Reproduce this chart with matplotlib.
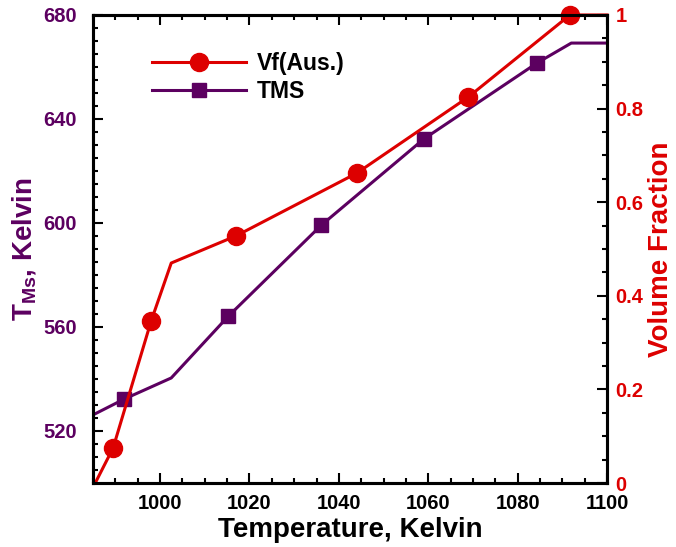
import matplotlib
matplotlib.use("Agg")
import matplotlib.pyplot as plt
from matplotlib.ticker import MultipleLocator, FuncFormatter

plt.rcParams['font.family'] = ['Liberation Sans', 'DejaVu Sans']
plt.rcParams['font.weight'] = 'bold'
plt.rcParams['mathtext.fontset'] = 'custom'
plt.rcParams['mathtext.rm'] = 'Liberation Sans:bold'
plt.rcParams['mathtext.it'] = 'Liberation Sans:bold'
plt.rcParams['mathtext.default'] = 'rm'

RED = '#dd0000'
PURPLE = '#5c0060'

# volume fraction of austenite (right axis)
vf_temp = [985.5, 989.5, 998.0, 1002.5, 1017.0, 1044.0, 1069.0, 1091.7, 1100.0]
vf_val = [0.0, 0.075, 0.346, 0.47, 0.528, 0.662, 0.825, 1.0, 1.0]
vf_marks = [1, 2, 4, 5, 6, 7]

# Ms temperature (left axis)
tms_temp = [985.0, 992.0, 1002.5, 1015.3, 1036.1, 1059.0, 1084.3, 1092.0, 1100.0]
tms_val = [526.2, 532.3, 540.4, 564.2, 599.2, 632.3, 661.5, 669.2, 669.2]
tms_marks = [1, 3, 4, 5, 6]

fig = plt.figure(figsize=(6.76, 5.47), dpi=100)
ax = fig.add_axes([0.1376, 0.117, 0.7604, 0.8556])
ax2 = ax.twinx()

l2, = ax.plot(tms_temp, tms_val, color=PURPLE, lw=2.2, marker='s', ms=9.5,
              markevery=tms_marks, label='TMS')
l1, = ax2.plot(vf_temp, vf_val, color=RED, lw=2.2, marker='o', ms=13,
               markevery=vf_marks, label='Vf(Aus.)', clip_on=False)

ax.set_xlim(985, 1100)
ax.set_ylim(500, 680)
ax2.set_ylim(0, 1)

ax.xaxis.set_major_locator(MultipleLocator(20))
ax.xaxis.set_minor_locator(MultipleLocator(5))
ax.yaxis.set_major_locator(MultipleLocator(40))
ax.yaxis.set_minor_locator(MultipleLocator(5))
ax2.yaxis.set_major_locator(MultipleLocator(0.2))
ax2.yaxis.set_minor_locator(MultipleLocator(0.05))
ax2.yaxis.set_major_formatter(FuncFormatter(lambda v, p: '%g' % round(v, 2)))

for a in (ax, ax2):
    for s in a.spines.values():
        s.set_linewidth(2.2)

ax.tick_params(axis='x', which='both', direction='in', top=True, labelsize=14.5, width=1.5, pad=8)
ax.tick_params(axis='x', which='major', length=7)
ax.tick_params(axis='x', which='minor', length=3.5)
ax.tick_params(axis='y', which='both', direction='in', right=False, labelsize=14.5,
               labelcolor=PURPLE, width=1.5, pad=11.5)
ax.tick_params(axis='y', which='major', length=7)
ax.tick_params(axis='y', which='minor', length=3.5)
ax2.tick_params(axis='y', which='both', direction='in', labelsize=14.5,
                labelcolor=RED, width=1.5, pad=6)
ax2.tick_params(axis='y', which='major', length=7)
ax2.tick_params(axis='y', which='minor', length=3.5)

ax.set_xlabel('Temperature, Kelvin', fontsize=20, fontweight='bold', labelpad=3)
ax.set_ylabel('T$_{Ms}$, Kelvin', fontsize=20, fontweight='bold', color=PURPLE, labelpad=4)
ax2.set_ylabel('Volume Fraction', fontsize=20, fontweight='bold', color=RED, labelpad=3)

ax.legend([l1, l2], ['Vf(Aus.)', 'TMS'], loc='upper left', bbox_to_anchor=(0.115, 0.92),
          frameon=False, borderpad=0, borderaxespad=0, handlelength=4.1,
          handletextpad=0.47, labelspacing=0.2,
          prop={'weight': 'bold', 'size': 16.5})

fig.savefig('out.png', dpi=100)
